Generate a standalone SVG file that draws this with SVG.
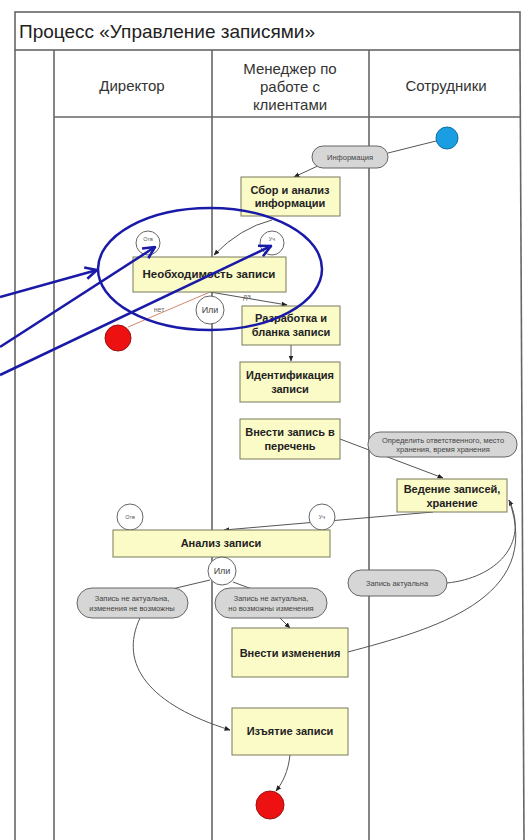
<svg xmlns="http://www.w3.org/2000/svg" width="531" height="840" viewBox="0 0 531 840">
<defs>
<marker id="ah" viewBox="0 0 10 10" refX="9" refY="5" markerWidth="6" markerHeight="6" orient="auto-start-reverse" markerUnits="userSpaceOnUse"><path d="M0,1 L10,5 L0,9 z" fill="#222"/></marker>
<marker id="bh" viewBox="0 0 12 12" refX="11" refY="6" markerWidth="14" markerHeight="14" orient="auto" markerUnits="userSpaceOnUse"><path d="M1,1 L11,6 L1,11" fill="none" stroke="#1a1aa8" stroke-width="2.2"/></marker>
<style>
.lane{stroke:#666;stroke-width:1.6;fill:none}
.box{fill:#fbfbc8;stroke:#7a7a5a;stroke-width:1}
.bt{font-family:"Liberation Sans",Arial,sans-serif;font-size:11px;font-weight:bold;fill:#222;text-anchor:middle}
.pill{fill:#d6d6d6;stroke:#666;stroke-width:1}
.pt{font-family:"Liberation Sans",Arial,sans-serif;font-size:7.5px;fill:#444;text-anchor:middle}
.circ{fill:#fff;stroke:#666;stroke-width:1}
.ct{font-family:"Liberation Sans",Arial,sans-serif;font-size:5.5px;fill:#555;text-anchor:middle}
.hd{font-family:"Liberation Sans",Arial,sans-serif;font-size:15px;fill:#333;text-anchor:middle}
.cn{fill:none;stroke:#555;stroke-width:1}
.bl{fill:none;stroke:#1a1aa8;stroke-width:2.5}
</style>
</defs>
<rect width="531" height="840" fill="#fff"/>
<g id="frame">
<rect x="15" y="12" width="505" height="38" class="lane"/>
<text x="19" y="38" font-family="'Liberation Sans',Arial,sans-serif" font-size="19" fill="#222">Процесс «Управление записями»</text>
<line x1="15" y1="50" x2="15" y2="840" class="lane"/>
<line x1="54" y1="50" x2="54" y2="840" class="lane"/>
<line x1="212" y1="50" x2="212" y2="840" class="lane"/>
<line x1="369" y1="50" x2="369" y2="840" class="lane"/>
<line x1="520" y1="50" x2="524" y2="840" class="lane"/>
<line x1="54" y1="117" x2="521" y2="117" class="lane"/>
<text x="132" y="91" class="hd">Директор</text>
<text x="290" y="74" class="hd">Менеджер по</text>
<text x="290" y="92" class="hd">работе с</text>
<text x="290" y="110" class="hd">клиентами</text>
<text x="446" y="91" class="hd">Сотрудники</text>
</g>
<g id="connectors">
<line x1="436" y1="141" x2="388" y2="153" class="cn"/>
<line x1="322" y1="164" x2="294" y2="177" class="cn" marker-end="url(#ah)"/>
<path d="M272,220 Q240,228 214,255" class="cn" marker-end="url(#ah)"/>
<line x1="210" y1="292" x2="128" y2="327" stroke="#d4876a" stroke-width="1" fill="none"/>
<line x1="210" y1="292" x2="287" y2="305" class="cn" marker-end="url(#ah)"/>
<line x1="291" y1="345" x2="291" y2="361" class="cn" marker-end="url(#ah)"/>
<line x1="340" y1="439" x2="443" y2="478" class="cn" marker-end="url(#ah)"/>
<line x1="433" y1="512" x2="224" y2="530" class="cn" marker-end="url(#ah)"/>
<line x1="210" y1="580" x2="172" y2="589" class="cn"/>
<line x1="233" y1="582" x2="252" y2="589" class="cn"/>
<line x1="280" y1="618" x2="290" y2="628" class="cn" marker-end="url(#ah)"/>
<path d="M447,583 C495,578 530,545 509,500" class="cn" marker-end="url(#ah)"/>
<path d="M348,652 C430,630 545,600 509,500" class="cn"/>
<path d="M140,618 C118,665 150,705 230,730" class="cn" marker-end="url(#ah)"/>
<path d="M290,755 C288,772 283,782 276,791" class="cn" marker-end="url(#ah)"/>
<text x="159" y="312" font-family="'Liberation Sans',Arial,sans-serif" font-size="7" fill="#666" text-anchor="middle">нет</text>
<text x="247" y="299" font-family="'Liberation Sans',Arial,sans-serif" font-size="7" fill="#666" text-anchor="middle">да</text>
</g>
<g id="start"><circle cx="447" cy="138" r="11" fill="#1a9ee2" stroke="#1070a0" stroke-width="1"/></g>
<g id="pill-info"><rect x="312" y="146" width="76" height="22" rx="11" class="pill"/><text x="350" y="160" class="pt">Информация</text></g>
<g id="n-sbor"><rect x="241" y="177" width="99" height="39" class="box"/><text x="290" y="194" class="bt">Сбор и анализ</text><text x="290" y="207" class="bt">информации</text></g>
<g id="c-otv1"><circle cx="148" cy="243" r="12" class="circ"/><text x="148" y="241" class="ct">Отв</text></g>
<g id="c-uch1"><circle cx="272" cy="243" r="12" class="circ"/><text x="272" y="241" class="ct">Уч</text></g>
<g id="n-neobh"><rect x="133" y="257" width="153" height="35" class="box"/><text x="209" y="278" class="bt" style="font-size:11.5px">Необходимость записи</text></g>
<g id="c-ili1"><circle cx="210" cy="310" r="14" class="circ"/><text x="210" y="313" text-anchor="middle" font-family="'Liberation Sans',Arial,sans-serif" font-size="9" fill="#444">Или</text></g>
<g id="end1"><circle cx="118" cy="338" r="13" fill="#ee1111" stroke="#991111" stroke-width="1"/></g>
<g id="n-razr"><rect x="242" y="306" width="98" height="39" class="box"/><text x="291" y="322" class="bt">Разработка и</text><text x="291" y="336" class="bt">бланка записи</text></g>
<g id="n-ident"><rect x="240" y="362" width="100" height="40" class="box"/><text x="290" y="379" class="bt">Идентификация</text><text x="290" y="393" class="bt">записи</text></g>
<g id="n-vnesti"><rect x="240" y="419" width="100" height="40" class="box"/><text x="290" y="436" class="bt">Внести запись в</text><text x="290" y="450" class="bt">перечень</text></g>
<g id="pill-opr"><rect x="368" y="432" width="149" height="25" rx="12" class="pill"/><text x="443" y="443" class="pt">Определить ответственного, место</text><text x="443" y="452" class="pt">хранения, время хранения</text></g>
<g id="n-vedenie"><rect x="397" y="479" width="110" height="33" class="box"/><text x="452" y="493" class="bt">Ведение записей,</text><text x="452" y="507" class="bt">хранение</text></g>
<g id="c-otv2"><circle cx="130" cy="517" r="13" class="circ"/><text x="130" y="519" class="ct">Отв</text></g>
<g id="c-uch2"><circle cx="322" cy="517" r="13" class="circ"/><text x="322" y="519" class="ct">Уч</text></g>
<g id="n-analiz"><rect x="113" y="530" width="217" height="27" class="box"/><text x="221" y="547" class="bt">Анализ записи</text></g>
<g id="c-ili2"><circle cx="222" cy="571" r="14" class="circ"/><text x="222" y="574" text-anchor="middle" font-family="'Liberation Sans',Arial,sans-serif" font-size="9" fill="#444">Или</text></g>
<g id="pill-left"><rect x="77" y="588" width="111" height="30" rx="15" class="pill"/><text x="132" y="601" class="pt">Запись не актуальна,</text><text x="132" y="611" class="pt">изменения не возможны</text></g>
<g id="pill-right"><rect x="215" y="588" width="112" height="30" rx="15" class="pill"/><text x="271" y="601" class="pt">Запись не актуальна,</text><text x="271" y="611" class="pt">но возможны изменения</text></g>
<g id="pill-akt"><rect x="348" y="570" width="99" height="26" rx="13" class="pill"/><text x="397" y="586" class="pt">Запись актуальна</text></g>
<g id="n-izm"><rect x="232" y="628" width="116" height="49" class="box"/><text x="290" y="657" class="bt">Внести изменения</text></g>
<g id="n-izyat"><rect x="232" y="708" width="116" height="47" class="box"/><text x="290" y="735" class="bt">Изъятие записи</text></g>
<g id="end2"><circle cx="270" cy="805" r="14" fill="#ee1111" stroke="#991111" stroke-width="1"/></g>
<g id="annotation">
<ellipse cx="210" cy="269" rx="112" ry="61" class="bl"/>
<line x1="0" y1="297" x2="97" y2="270" class="bl" marker-end="url(#bh)"/>
<line x1="0" y1="347" x2="155" y2="247" class="bl" marker-end="url(#bh)"/>
<line x1="0" y1="375" x2="271" y2="246" class="bl" marker-end="url(#bh)"/>
</g>
</svg>
